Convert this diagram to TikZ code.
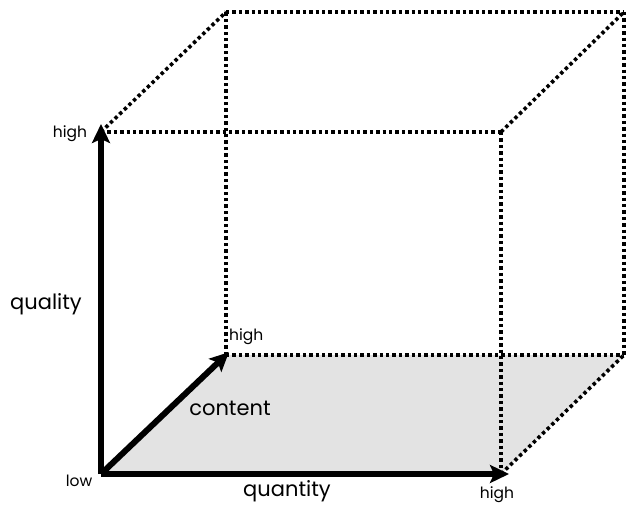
\documentclass[tikz,border=0pt]{standalone}
\usepackage{fontspec}
\setmainfont{Poppins}
\usetikzlibrary{arrows.meta}

\tikzset{
  axis/.style={line width=6pt, -{Stealth[length=19pt,width=18pt,inset=4pt]}, shorten >=-8pt},
  edgedot/.style={line width=3.6pt, dash pattern=on 3.4pt off 3pt},
  lbl/.style={inner sep=0pt, font=\fontsize{21}{21}\selectfont},
  tick/.style={inner sep=0pt, font=\fontsize{15.5}{15.5}\selectfont}
}

\begin{document}
\begin{tikzpicture}[x=1pt, y=-1pt]
    \useasboundingbox (0, 0) rectangle (626, 511);

    % corners of the box
    \coordinate (low)  at (101, 474);
    \coordinate (qh)   at (501, 474);
    \coordinate (ql)   at (101, 132);
    \coordinate (ft)   at (501, 132);
    \coordinate (ch)   at (226, 355);
    \coordinate (bb)   at (624, 355);
    \coordinate (bt)   at (226, 12);
    \coordinate (br)   at (624, 12);

    % floor
    \fill[black!11] (low) -- (qh) -- (bb) -- (ch) -- cycle;

    % dotted edges
    \draw[edgedot] (ql) -- (ft);
    \draw[edgedot] (ft) -- (qh);
    \draw[edgedot] (ql) -- (bt);
    \draw[edgedot] (bt) -- (br);
    \draw[edgedot] (br) -- (bb);
    \draw[edgedot] (ft) -- (br);
    \draw[edgedot] (ch) -- (bb);
    \draw[edgedot] (ch) -- (bt);
    \draw[edgedot] (qh) -- (bb);

    % axes
    \draw[axis] (low) -- (ql);
    \draw[axis] (low) -- (qh);
    \draw[axis, shorten >=-4pt] (low) -- (ch);

    % labels
    \node[tick] at (70, 134)   (tql)  {high};
    \node[lbl]  at (46, 304)   (tqual) {quality};
    \node[tick, anchor=west] at (229, 337) (tch) {high};
    \node[lbl]  at (230, 408)  (tcont) {content};
    \node[tick] at (79, 481)   (tlow) {low};
    \node[lbl]  at (287, 491)  (tquan) {quantity};
    \node[tick] at (497, 495)  (tqh)  {high};
\end{tikzpicture}
\end{document}
